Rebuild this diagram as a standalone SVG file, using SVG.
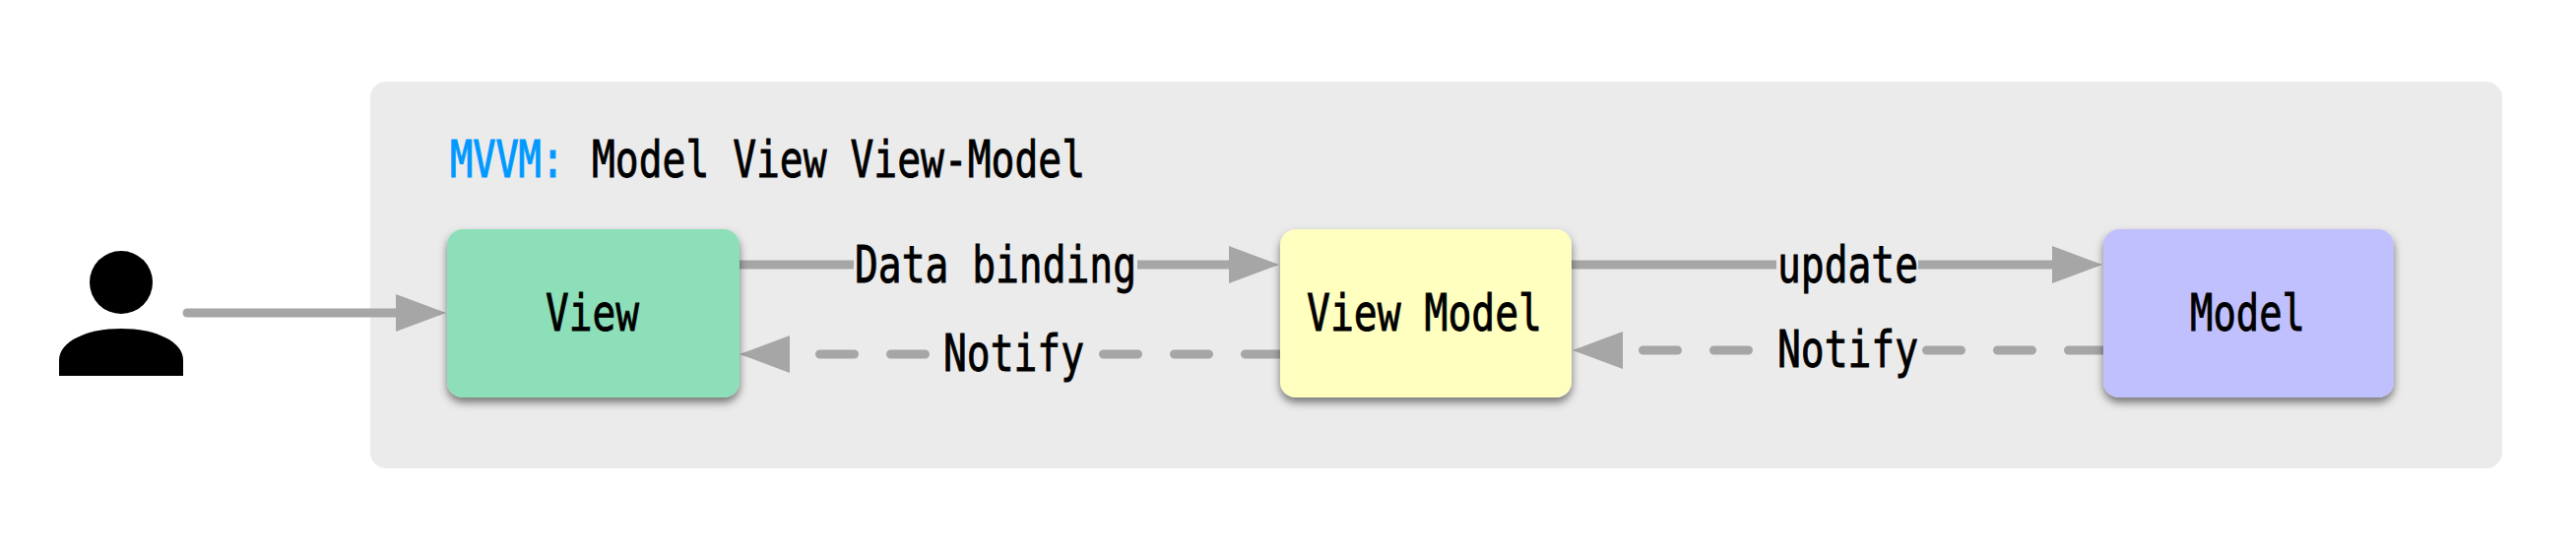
<svg xmlns="http://www.w3.org/2000/svg" width="2616" height="558" viewBox="0 0 2616 558">
<style>
text{font-family:"DejaVu Sans Mono","Liberation Mono",monospace;font-size:52px;fill:#000;stroke:#000;stroke-width:0.9px}
.t{fill:#0099ff;stroke:#0099ff;stroke-width:1.2px}
.n{filter:url(#sh)}
.l{stroke:#a6a6a6;stroke-width:9;fill:none}
.d{stroke-dasharray:35 37;stroke-linecap:round}
.h{fill:#a6a6a6}
.b{fill:#ebebeb}
</style>
<defs>
<filter id="sh" x="-10%" y="-10%" width="120%" height="125%"><feDropShadow dx="0" dy="5" stdDeviation="4" flood-color="#000" flood-opacity="0.5"/></filter>
</defs>
<rect x="0" y="0" width="2616" height="558" fill="#fff"/>
<g id="panel">
<rect x="376" y="83" width="2165" height="393" rx="16" fill="#ebebeb"/>
<text class="t" x="457" y="180" textLength="116" lengthAdjust="spacingAndGlyphs">MVVM:</text>
<text x="601" y="180" textLength="501" lengthAdjust="spacingAndGlyphs">Model View View-Model</text>
</g>
<g id="connectors">
<line class="l" x1="190" y1="318" x2="405" y2="318" stroke-linecap="round"/>
<polygon class="h" points="402,299 453,318 402,337"/>
<line class="l" x1="751" y1="269" x2="1250" y2="269"/>
<polygon class="h" points="1248,250 1299,269 1248,288"/>
<line class="l" x1="1596" y1="269" x2="2087" y2="269"/>
<polygon class="h" points="2084,250 2135,269 2084,288"/>
<line class="l d" x1="832.5" y1="360" x2="1300" y2="360"/>
<polygon class="h" points="802,341 751,360 802,379"/>
<line class="l d" x1="1668.5" y1="356" x2="2136" y2="356"/>
<polygon class="h" points="1648,337 1597,356 1648,375"/>
<g id="labels">
<rect class="b" x="867" y="245" width="288" height="50"/>
<text x="868" y="287" textLength="286" lengthAdjust="spacingAndGlyphs">Data binding</text>
<rect class="b" x="1804" y="245" width="144" height="50"/>
<text x="1805" y="287" textLength="143" lengthAdjust="spacingAndGlyphs">update</text>
<rect class="b" x="957" y="335" width="146" height="50"/>
<text x="958" y="377" textLength="143" lengthAdjust="spacingAndGlyphs">Notify</text>
<rect class="b" x="1804" y="331" width="146" height="50"/>
<text x="1805" y="373" textLength="143" lengthAdjust="spacingAndGlyphs">Notify</text>
</g>
</g>
<g id="user">
<circle cx="123" cy="287" r="32"/>
<path d="M60 382V366C60 347 88 334 123 334S186 347 186 366V382Z"/>
</g>
<g id="view">
<rect class="n" x="454" y="233" width="297" height="171" rx="16" fill="#8ddfb9"/>
<text x="554" y="336" textLength="95" lengthAdjust="spacingAndGlyphs">View</text>
</g>
<g id="viewmodel">
<rect class="n" x="1300" y="233" width="296" height="171" rx="16" fill="#ffffc0"/>
<text x="1327" y="336" textLength="239" lengthAdjust="spacingAndGlyphs">View Model</text>
</g>
<g id="model">
<rect class="n" x="2136" y="233" width="295" height="171" rx="16" fill="#c0c0ff"/>
<text x="2224" y="336" textLength="117" lengthAdjust="spacingAndGlyphs">Model</text>
</g>
</svg>
